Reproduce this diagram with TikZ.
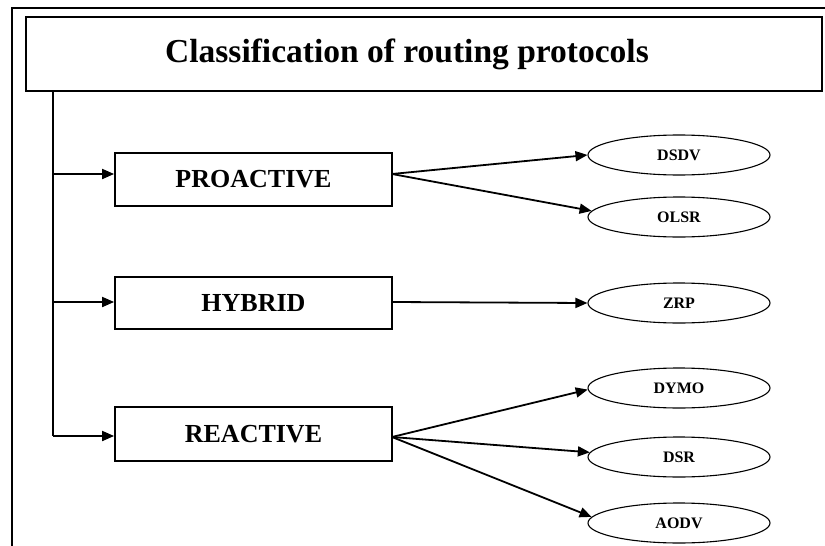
\documentclass[tikz,border=0pt]{standalone}
\usepackage{fontspec}
\setmainfont{Liberation Serif}
\usetikzlibrary{shapes.geometric,arrows.meta}
\begin{document}
\begin{tikzpicture}[x=1pt,y=-1pt,
  catbox/.style={draw,line width=1.8pt,minimum width=277pt,minimum height=53pt,inner sep=0pt,font=\fontsize{26}{30}\selectfont\bfseries},
  proto/.style={draw,ellipse,line width=1.1pt,minimum width=182pt,minimum height=40pt,inner sep=0pt,font=\fontsize{16}{18}\selectfont\bfseries},
  conn/.style={line width=1.8pt,-{Triangle[length=12pt,width=10pt]}},
  trunkline/.style={line width=1.8pt}]
\useasboundingbox (0,0) rectangle (825,546);
% outer frame
\draw[line width=2.5pt] (12,546) -- (12,8) -- (825,8);
% title
\node[draw,line width=1.8pt,minimum width=796pt,minimum height=74pt,inner sep=0pt] (title) at (424,54) {};
\node[anchor=base,font=\fontsize{33.5}{38}\selectfont\bfseries,inner sep=0pt] (titletext) at (407,62) {Classification of routing protocols};
% category boxes
\node[catbox] (pro) at (253.5,179.5) {PROACTIVE};
\node[catbox,minimum height=52pt] (hyb) at (253.5,303) {HYBRID};
\node[catbox,minimum height=54pt] (rea) at (253.5,434) {REACTIVE};
% protocols
\node[proto] (dsdv) at (679,155) {DSDV};
\node[proto] (olsr) at (679,217) {OLSR};
\node[proto] (zrp) at (679,303) {ZRP};
\node[proto] (dymo) at (679,388) {DYMO};
\node[proto] (dsr) at (679,457) {DSR};
\node[proto] (aodv) at (679,523) {AODV};
% trunk
\coordinate (ttop) at (53,91);
\coordinate (tp) at (53,174);
\coordinate (th) at (53,302);
\coordinate (tr) at (53,436);
\draw[trunkline] (title.south -| ttop) -- (tr);
\draw[conn] (tp) -- (pro.west |- tp);
\draw[conn] (th) -- (hyb.west |- th);
\draw[conn] (tr) -- (rea.west |- tr);
% fan-outs
\coordinate (po) at (392,174);
\coordinate (ho) at (392,302);
\coordinate (ro) at (392,437);
\draw[conn] (po) -- (dsdv.west);
\draw[conn] (po) -- (olsr.176);
\draw[conn] (ho) -- (zrp.west);
\draw[conn] (ro) -- (dymo.181);
\draw[conn] (ro) -- (dsr.177);
\draw[conn] (ro) -- (aodv.176);
\end{tikzpicture}
\end{document}
